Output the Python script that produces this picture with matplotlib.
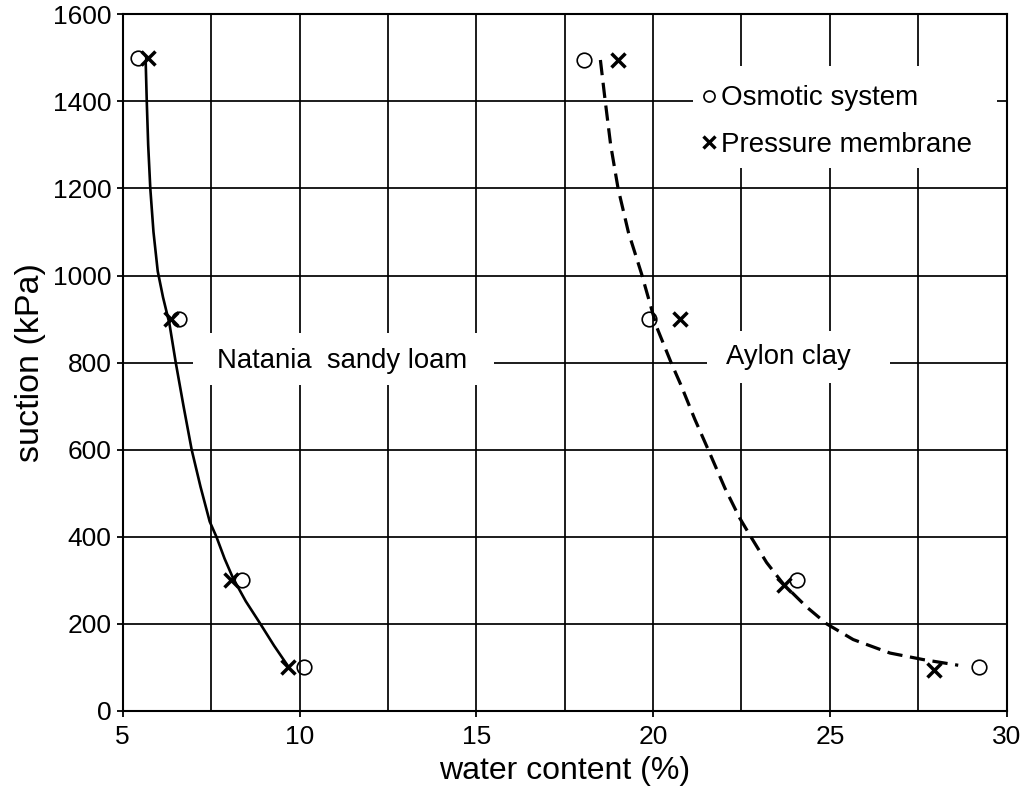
import matplotlib
matplotlib.use("Agg")
import matplotlib.pyplot as plt
from matplotlib.patches import Rectangle
from matplotlib.lines import Line2D

plt.rcParams['font.family'] = ['Liberation Sans', 'DejaVu Sans']
plt.rcParams['lines.scale_dashes'] = False

# ---- data ----
nat_osm_x = [5.42, 6.60, 8.36, 10.14]
nat_osm_y = [1500, 900, 300, 100]
nat_pm_x = [5.72, 6.36, 8.05, 9.68]
nat_pm_y = [1500, 900, 300, 100]

ay_osm_x = [18.05, 19.89, 24.06, 29.22]
ay_osm_y = [1495, 900, 300, 100]
ay_pm_x = [19.01, 20.76, 23.70, 27.94]
ay_pm_y = [1495, 900, 290, 95]

nat_curve_x = [5.65, 5.68, 5.72, 5.78, 5.87, 5.99, 6.14, 6.32, 6.50, 6.72, 6.95, 7.20,
               7.46, 7.65, 7.88, 8.12, 8.48, 8.87, 9.28, 9.70]
nat_curve_y = [1490, 1400, 1300, 1200, 1100, 1010, 950, 890, 800, 700, 600, 515,
               435, 400, 350, 305, 252, 203, 150, 100]

ay_curve_x = [18.51, 18.64, 18.80, 19.01, 19.30, 19.67, 20.10, 20.52, 20.78, 21.18, 21.56,
              22.03, 22.45, 22.78, 23.21, 23.68, 24.34, 24.91, 25.66, 26.70, 27.64, 28.63]
ay_curve_y = [1495, 1405, 1300, 1200, 1100, 1005, 882, 798, 750, 670, 600,
              512, 443, 398, 341, 292, 239, 200, 164, 133, 118, 105]

x_ticks = [5, 10, 15, 20, 25, 30]
y_ticks = [0, 200, 400, 600, 800, 1000, 1200, 1400, 1600]
x_grid = [7.5, 10, 12.5, 15, 17.5, 20, 22.5, 25, 27.5]

# ---- figure ----
fig = plt.figure(figsize=(10.33, 7.89), dpi=100)
ax = fig.add_axes([0.1188, 0.0989, 0.8557, 0.883])
ax.set_xlim(5, 30)
ax.set_ylim(0, 1600)

for s in ax.spines.values():
    s.set_linewidth(1.5)
    s.set_zorder(5)

ax.set_xticks(x_ticks)
ax.set_yticks(y_ticks)
ax.tick_params(axis='both', direction='out', length=4, width=1.3, labelsize=19)
ax.tick_params(axis='x', pad=6)
ax.tick_params(axis='y', pad=4)

for gx in x_grid:
    ax.axvline(gx, color='black', lw=1.25, zorder=0.5)
for gy in y_ticks[1:-1]:
    ax.axhline(gy, color='black', lw=1.25, zorder=0.5)

# white label boxes covering gridlines
ax.add_patch(Rectangle((0.0795, 0.468), 0.3405, 0.0746, transform=ax.transAxes,
                       facecolor='white', edgecolor='none', zorder=1))
ax.add_patch(Rectangle((0.661, 0.4708), 0.207, 0.0746, transform=ax.transAxes,
                       facecolor='white', edgecolor='none', zorder=1))
ax.add_patch(Rectangle((0.645, 0.7794), 0.344, 0.1464, transform=ax.transAxes,
                       facecolor='white', edgecolor='none', zorder=1))

ax.text(0.2485, 0.503, 'Natania  sandy loam', transform=ax.transAxes, fontsize=19.8,
        ha='center', va='center', zorder=2)
ax.text(0.7535, 0.508, 'Aylon clay', transform=ax.transAxes, fontsize=19.8,
        ha='center', va='center', zorder=2)

# curves
ax.plot(nat_curve_x, nat_curve_y, color='black', lw=1.9, zorder=3)
ax.plot(ay_curve_x, ay_curve_y, color='black', lw=2.3, linestyle=(0, (11, 5.5)), zorder=3)

# markers
circ = dict(marker='o', linestyle='none', markersize=10.5, markerfacecolor='none',
            markeredgecolor='black', markeredgewidth=1.2, zorder=4)
cross = dict(marker='x', linestyle='none', markersize=10.5, color='black',
             markeredgewidth=2.5, zorder=4)
ax.plot(nat_osm_x, nat_osm_y, **circ)
ax.plot(ay_osm_x, ay_osm_y, **circ)
ax.plot(nat_pm_x, nat_pm_y, **cross)
ax.plot(ay_pm_x, ay_pm_y, **cross)

handles = [Line2D([], [], marker='o', linestyle='none', markersize=8, markerfacecolor='none',
                  markeredgecolor='black', markeredgewidth=1.2),
           Line2D([], [], marker='x', linestyle='none', markersize=9, color='black',
                  markeredgewidth=2.4)]
leg = ax.legend(handles, ['Osmotic system', 'Pressure membrane'], loc='upper left',
                bbox_to_anchor=(0.644, 0.910), frameon=False, fontsize=20,
                handlelength=0.6, handletextpad=0.15, labelspacing=0.74,
                borderpad=0.3, borderaxespad=0)
leg.set_zorder(6)

ax.set_xlabel('water content (%)', fontsize=23, labelpad=5)
ax.set_ylabel('suction (kPa)', fontsize=24.5, labelpad=5)

fig.savefig('out.png', dpi=100)
